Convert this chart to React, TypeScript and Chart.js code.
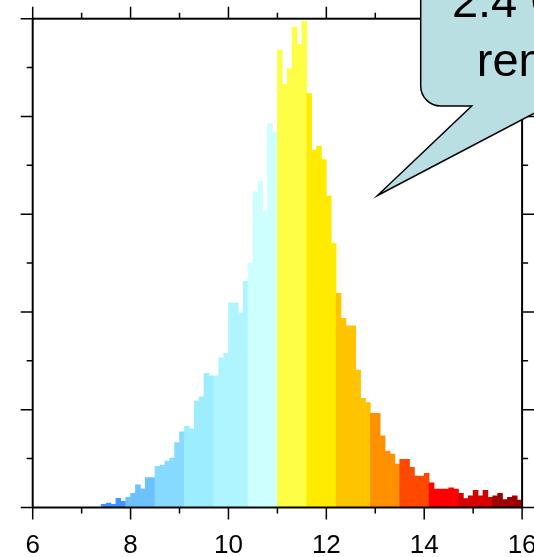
import React, { useEffect, useRef } from "react";
import { Chart, registerables } from "chart.js";

Chart.register(...registerables);

// Histogram bins (left edge of each 0.1-wide bin)
const binStarts = [
  7.4, 7.5, 7.6, 7.7, 7.8, 7.9, 8.0, 8.1, 8.2, 8.3, 8.4, 8.5, 8.6, 8.7, 8.8, 8.9,
  9.0, 9.1, 9.2, 9.3, 9.4, 9.5, 9.6, 9.7, 9.8, 9.9, 10.0, 10.1, 10.2, 10.3, 10.4,
  10.5, 10.6, 10.7, 10.8, 10.9, 11.0, 11.1, 11.2, 11.3, 11.4, 11.5, 11.6, 11.7,
  11.8, 11.9, 12.0, 12.1, 12.2, 12.3, 12.4, 12.5, 12.6, 12.7, 12.8, 12.9, 13.0,
  13.1, 13.2, 13.3, 13.4, 13.5, 13.6, 13.7, 13.8, 13.9, 14.0, 14.1, 14.2, 14.3,
  14.4, 14.5, 14.6, 14.7, 14.8, 14.9, 15.0, 15.1, 15.2, 15.3, 15.4, 15.5, 15.6,
  15.7, 15.8, 15.9,
];

const counts = [
  3.3, 4.6, 3.3, 9.4, 6.3, 10.4, 14.5, 23.3, 19.2, 30.5, 30.5, 42.1, 43.5, 47.5, 50.6, 66.3,
  77.5, 83.0, 80.6, 108.9, 113.3, 137.2, 134.8, 134.8, 153.2, 157.6, 209.4, 209.4, 199.2, 231.6, 250.3,
  322.9, 333.1, 303.5, 392.8, 384.3, 467.8, 432.7, 449.1, 491.6, 473.6, 497.5, 423.5, 365.5,
  369.6, 356.0, 318.5, 270.1, 219.0, 193.4, 185.9, 185.9, 140.6, 111.6, 107.2, 96.3, 96.3,
  73.4, 57.8, 54.7, 44.5, 49.3, 49.3, 41.1, 32.2, 32.2, 35.0, 25.2, 18.9, 18.9,
  18.9, 20.2, 18.9, 14.5, 9.2, 12.0, 17.5, 12.0, 17.5, 10.4, 12.0, 14.6, 8.0,
  10.4, 12.0, 7.7,
];

// colour palette boundaries (panoply-like)
const bandEdges = [7.9, 8.5, 9.1, 9.7, 10.4, 11.0, 11.6, 12.2, 12.9, 13.5, 14.1, 14.7, 15.4];
const bandColors = [
  "#4196FF", "#6DC1FF", "#86D9FF", "#9CEEFF", "#AFF5FF", "#CEFFFF", "#FFFE47",
  "#FFEB00", "#FFC400", "#FF9000", "#FF4800", "#FF0000", "#D50000", "#9E0000",
];

const xMin = 6;
const xMax = 16;
const xMajorStep = 2;
const xMinorStep = 1;
const yMin = 0;
const yMax = 500;
const yMajorStep = 100;
const yMinorStep = 50;
const binWidth = 0.1;

const calloutLines = ["2.4 Ga", "removed"];

function colorFor(start: number): string {
  let idx = 0;
  for (const e of bandEdges) if (start >= e - 1e-6) idx++;
  return bandColors[idx];
}

export default function App() {
  const ref = useRef<HTMLCanvasElement>(null);

  useEffect(() => {
    const canvas = ref.current;
    if (!canvas) return;

    const framePlugin = {
      id: "frameAndCallout",
      afterDraw(chart: any) {
        const { ctx, chartArea: a, scales } = chart;
        const xs = scales.x;
        const ys = scales.y;
        ctx.save();
        ctx.strokeStyle = "#000";
        ctx.lineCap = "butt";
        ctx.lineWidth = 1.5;
        ctx.beginPath();
        for (let v = xMin; v <= xMax + 1e-9; v += xMinorStep) {
          const px = xs.getPixelForValue(v);
          const len = Math.abs((v - xMin) % xMajorStep) < 1e-6 ? 12 : 6;
          ctx.moveTo(px, a.bottom);
          ctx.lineTo(px, a.bottom + len);
          ctx.moveTo(px, a.top);
          ctx.lineTo(px, a.top - len);
        }
        for (let v = yMin; v <= yMax + 1e-9; v += yMinorStep) {
          const py = ys.getPixelForValue(v);
          const len = Math.abs(v % yMajorStep) < 1e-6 ? 12 : 6;
          ctx.moveTo(a.left, py);
          ctx.lineTo(a.left - len, py);
          ctx.moveTo(a.right, py);
          ctx.lineTo(a.right + len, py);
        }
        ctx.stroke();
        ctx.lineWidth = 2;
        ctx.strokeRect(a.left, a.top, a.right - a.left, a.bottom - a.top);

        // speech-bubble callout
        const left = 420.7;
        const bottom = 106;
        const r = 20;
        ctx.beginPath();
        ctx.moveTo(left, -20);
        ctx.lineTo(left, bottom - r);
        ctx.arcTo(left, bottom, left + r, bottom, r);
        ctx.lineTo(471.7, bottom);
        ctx.lineTo(377.5, 195.5);
        ctx.lineTo(548, bottom);
        ctx.lineTo(620, bottom);
        ctx.lineTo(620, -20);
        ctx.closePath();
        ctx.fillStyle = "#B9DFE3";
        ctx.fill();
        ctx.lineWidth = 1.5;
        ctx.lineJoin = "miter";
        ctx.stroke();

        ctx.fillStyle = "#000";
        ctx.font = "47px 'Liberation Sans', Arial, sans-serif";
        ctx.textAlign = "left";
        ctx.textBaseline = "alphabetic";
        ctx.fillText(calloutLines[0], 451.9, 17);
        ctx.fillText(calloutLines[1], 476.8, 76);
        ctx.restore();
      },
    };

    const chart = new Chart(canvas, {
      type: "bar",
      data: {
        datasets: [
          {
            data: binStarts.map((s, i) => ({ x: s + binWidth / 2, y: counts[i] })),
            backgroundColor: binStarts.map(colorFor),
            borderWidth: 0,
            barPercentage: 1,
            categoryPercentage: 1,
          },
        ],
      },
      options: {
        responsive: false,
        animation: false,
        events: [],
        layout: { padding: { left: 32.7, top: 18.7, right: 11.9, bottom: 0 } },
        plugins: { legend: { display: false }, tooltip: { enabled: false } },
        scales: {
          x: {
            type: "linear",
            min: xMin,
            max: xMax,
            offset: false,
            grid: { display: false, drawTicks: false },
            border: { display: false },
            ticks: {
              stepSize: xMajorStep,
              autoSkip: false,
              maxRotation: 0,
              padding: 22.3,
              color: "#000",
              font: { size: 26, family: "'Liberation Sans', Arial, sans-serif" },
            },
            afterFit(scale: any) {
              scale.height = 49.5;
              scale.paddingLeft = 0;
              scale.paddingRight = 0;
            },
          },
          y: {
            type: "linear",
            min: yMin,
            max: yMax,
            display: false,
          },
        },
      },
      plugins: [framePlugin],
    });

    return () => chart.destroy();
  }, []);

  return (
    <div style={{ position: "fixed", left: 0, top: 0, width: 534, height: 557, background: "#fff" }}>
      <canvas ref={ref} width={534} height={557} style={{ display: "block" }} />
    </div>
  );
}
